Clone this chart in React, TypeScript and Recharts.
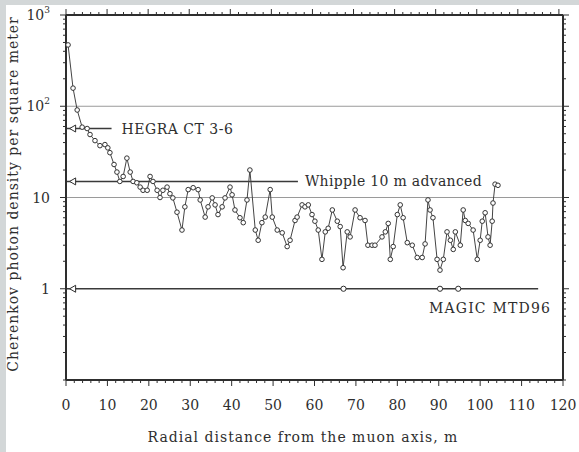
import React from 'react';
import { ComposedChart, Line, XAxis, YAxis, ReferenceLine, ReferenceDot } from 'recharts';

// radial distance (m) and photon density (per m^2)
const radius = [
  0.5, 1.7, 2.7, 3.9, 5.1, 5.8, 7.0, 8.2, 9.4, 10.1, 10.6, 11.6, 12.3, 13.0, 13.8, 14.7,
  15.5, 16.2, 17.1, 17.9, 18.6, 19.6, 20.3, 21.0, 22.0, 22.7, 23.4, 24.4, 25.1, 25.8, 26.8,
  28.0, 28.7, 29.5, 30.7, 31.9, 32.4, 33.6, 34.3, 35.3, 36.0, 36.7, 37.7, 38.4, 39.6, 40.1,
  40.8, 42.0, 42.8, 43.7, 44.4, 45.7, 46.4, 47.3, 48.1, 49.3, 49.8, 51.0, 52.2, 53.4, 54.1,
  55.3, 55.8, 57.0, 57.7, 58.5, 59.4, 60.1, 60.9, 61.8, 62.6, 63.3, 64.3, 65.5, 66.2, 66.9,
  67.9, 68.6, 69.8, 71.0, 72.2, 72.9, 73.9, 74.6, 76.3, 77.1, 77.8, 78.3, 79.0, 80.0, 80.7,
  81.4, 82.4, 83.6, 84.8, 86.0, 86.7, 87.4, 87.9, 88.6, 89.6, 90.3, 91.1, 92.0, 92.8, 93.5,
  94.0, 95.2, 95.9, 96.4, 97.1, 98.3, 99.3, 100.0, 100.5, 101.2, 101.9, 102.4, 102.9, 103.1,
  103.6, 104.3,
];
const density = [
  470, 158, 91, 59, 57, 49, 42, 37, 38, 35, 31, 23, 19, 15, 17, 27,
  19, 15, 14.5, 13, 12, 12, 17, 15, 12, 10, 12, 13, 11, 9.9, 6.9,
  4.4, 7.9, 12.2, 12.8, 12.2, 9.4, 6.1, 7.9, 9.9, 8.3, 6.5, 7.9, 9.9, 13, 10.7,
  7.3, 6, 5.3, 9.4, 20, 4.4, 3.4, 5.3, 6.1, 12.2, 6.1, 4.4, 4.1, 2.9, 3.4,
  5.6, 6.1, 8.3, 7.9, 8.3, 6.5, 5.5, 4.4, 2.1, 4.2, 4.6, 7.3, 5.5, 4.8, 1.7,
  4.2, 3.7, 7.3, 6, 5.6, 3.0, 3.0, 3.0, 3.7, 4.2, 5.2, 2.1, 2.9, 6.5, 8.3,
  6, 3.2, 3, 2.2, 2.2, 3.1, 9.4, 7.3, 6, 2.1, 1.6, 2.1, 4.2, 3.4, 2.7,
  4.2, 3, 7.3, 5.6, 5.2, 4.4, 2.1, 3.4, 5.5, 6.8, 3.7, 3, 5.5, 8.7,
  14, 13.6,
];

const detectors = ['HEGRA CT 3-6', 'Whipple 10 m advanced', 'MAGIC MTD96'];
const thresholds = [57, 15, 1];
const segmentEnds = [11, 56, 114];
const magicMarks = [67, 90.3, 94.7];

const xTicks = [0, 2, 4, 6, 8, 10, 12, 14, 16, 18, 20, 22, 24, 26, 28, 30, 32, 34, 36, 38, 40,
  42, 44, 46, 48, 50, 52, 54, 56, 58, 60, 62, 64, 66, 68, 70, 72, 74, 76, 78, 80, 82, 84, 86,
  88, 90, 92, 94, 96, 98, 100, 102, 104, 106, 108, 110, 112, 114, 116, 118, 120];
const yTicks = [0.1, 0.2, 0.3, 0.4, 0.5, 0.6, 0.7, 0.8, 0.9, 1, 2, 3, 4, 5, 6, 7, 8, 9,
  10, 20, 30, 40, 50, 60, 70, 80, 90, 100, 200, 300, 400, 500, 600, 700, 800, 900, 1000];
const yMajor = [1, 10, 100, 1000];

const FONT = '"DejaVu Serif", serif';
const INK = '#2e2e2e';

const data = radius.map((r, i) => ({ r, d: density[i] }));

function BottomTick({ x, y, payload }: any) {
  const v = payload.value;
  const major = v % 10 === 0;
  return (
    <g>
      <line x1={x} x2={x} y1={y} y2={y + (major ? 6 : 3)} stroke={INK} />
      {major && (
        <text x={x} y={y + 30} textAnchor="middle" fontFamily={FONT} fontSize={14} fill={INK}>{v}</text>
      )}
    </g>
  );
}

function TopTick({ x, y, payload }: any) {
  const major = payload.value % 10 === 0;
  return <line x1={x} x2={x} y1={y} y2={y - (major ? 6 : 3)} stroke={INK} />;
}

function LeftTick({ x, y, payload }: any) {
  const v = payload.value;
  const major = yMajor.includes(v);
  let label = null;
  if (v === 1000) label = <>10<tspan dy={-7} fontSize={9}>3</tspan></>;
  else if (v === 100) label = <>10<tspan dy={-7} fontSize={9}>2</tspan></>;
  else if (v === 10) label = <>10</>;
  else if (v === 1) label = <>1</>;
  return (
    <g>
      <line x1={x} x2={x - (major ? 6 : 3)} y1={y} y2={y} stroke={INK} />
      {label && (
        <text x={x - 16} y={y + 5} textAnchor="end" fontFamily={FONT} fontSize={14} fill={INK}>{label}</text>
      )}
    </g>
  );
}

function RightTick({ x, y, payload }: any) {
  const major = yMajor.includes(payload.value);
  return <line x1={x} x2={x + (major ? 6 : 3)} y1={y} y2={y} stroke={INK} />;
}

function SegmentLabel({ viewBox, text, dx, dy, anchor, spacing }: any) {
  if (!viewBox) return null;
  const { x, y, width } = viewBox;
  return (
    <text
      x={x + width + dx}
      y={y + dy}
      textAnchor={anchor}
      fontFamily={FONT}
      fontSize={14}
      letterSpacing={spacing}
      fill={INK}
    >
      {text}
    </text>
  );
}

function TriangleMark({ cx, cy }: any) {
  return <path d={`M${cx - 3},${cy} L${cx + 3},${cy - 3.5} L${cx + 3},${cy + 3.5} Z`} fill="#fff" stroke={INK} />;
}

const labelPlacement = [
  { dx: 10, dy: 5, anchor: 'start', spacing: 0.5 },
  { dx: 7, dy: 5, anchor: 'start', spacing: 0.3 },
  { dx: 13, dy: 24, anchor: 'end', spacing: 1.2 },
];

export default function App() {
  return (
    <div style={{ position: 'absolute', left: 0, top: 0, width: 579, height: 452, background: '#fff', overflow: 'hidden' }}>
      <div style={{ position: 'absolute', left: 0, top: 0, width: 579, height: 5, background: '#d3d7d8' }} />
      <div style={{ position: 'absolute', left: 0, top: 0, width: 6, height: 452, background: '#d3d7d8' }} />
      <ComposedChart
        width={579}
        height={452}
        data={data}
        margin={{ top: 5, right: 6, bottom: 42, left: 0 }}
        style={{ position: 'absolute', left: 0, top: 0 }}
      >
        <XAxis
          dataKey="r"
          type="number"
          domain={[0, 120]}
          ticks={xTicks}
          interval={0}
          height={30}
          tickSize={0}
          tickMargin={0}
          tickLine={false}
          axisLine={{ stroke: INK, strokeWidth: 2 }}
          tick={<BottomTick />}
        />
        <XAxis
          xAxisId="top"
          orientation="top"
          type="number"
          domain={[0, 120]}
          ticks={xTicks}
          interval={0}
          height={10}
          tickSize={0}
          tickMargin={0}
          tickLine={false}
          axisLine={{ stroke: INK, strokeWidth: 2 }}
          tick={<TopTick />}
        />
        <YAxis
          type="number"
          scale="log"
          domain={[0.1, 1000]}
          allowDataOverflow
          ticks={yTicks}
          interval={0}
          width={66}
          tickSize={0}
          tickMargin={0}
          tickLine={false}
          axisLine={{ stroke: INK, strokeWidth: 2 }}
          tick={<LeftTick />}
        />
        <YAxis
          yAxisId="right"
          orientation="right"
          type="number"
          scale="log"
          domain={[0.1, 1000]}
          allowDataOverflow
          ticks={yTicks}
          interval={0}
          width={10}
          tickSize={0}
          tickMargin={0}
          tickLine={false}
          axisLine={{ stroke: INK, strokeWidth: 2 }}
          tick={<RightTick />}
        />
        <ReferenceLine y={100} stroke="#9a9a9a" strokeWidth={1} />
        <ReferenceLine y={10} stroke="#9a9a9a" strokeWidth={1} />
        {detectors.map((name, i) => (
          <ReferenceLine
            key={name}
            segment={[{ x: 0, y: thresholds[i] }, { x: segmentEnds[i], y: thresholds[i] }]}
            stroke="#3a3a3a"
            strokeWidth={1.6}
            label={<SegmentLabel text={name} {...labelPlacement[i]} />}
          />
        ))}
        {thresholds.map((t, i) => (
          <ReferenceDot key={'tri' + i} x={1.6} y={t} shape={<TriangleMark />} />
        ))}
        {magicMarks.map((m) => (
          <ReferenceDot key={'m' + m} x={m} y={1} r={2.6} fill="#fff" stroke={INK} strokeWidth={1} />
        ))}
        <Line
          dataKey="d"
          type="linear"
          stroke="#444"
          strokeWidth={1}
          dot={{ r: 2.3, fill: '#fff', stroke: '#333', strokeWidth: 1 }}
          isAnimationActive={false}
        />
      </ComposedChart>
      <div
        style={{
          position: 'absolute', left: 303, top: 437, width: 500, marginLeft: -250, marginTop: -9,
          textAlign: 'center', fontFamily: FONT, fontSize: 14, letterSpacing: 1, color: INK,
          lineHeight: '18px', whiteSpace: 'nowrap',
        }}
      >
        Radial distance from the muon axis, m
      </div>
      <div
        style={{
          position: 'absolute', left: 13, top: 194, width: 380, marginLeft: -190, marginTop: -9,
          textAlign: 'center', fontFamily: FONT, fontSize: 14, letterSpacing: 1, color: INK,
          lineHeight: '18px', transform: 'rotate(-90deg)', whiteSpace: 'nowrap',
        }}
      >
        Cherenkov photon density per square meter
      </div>
    </div>
  );
}
